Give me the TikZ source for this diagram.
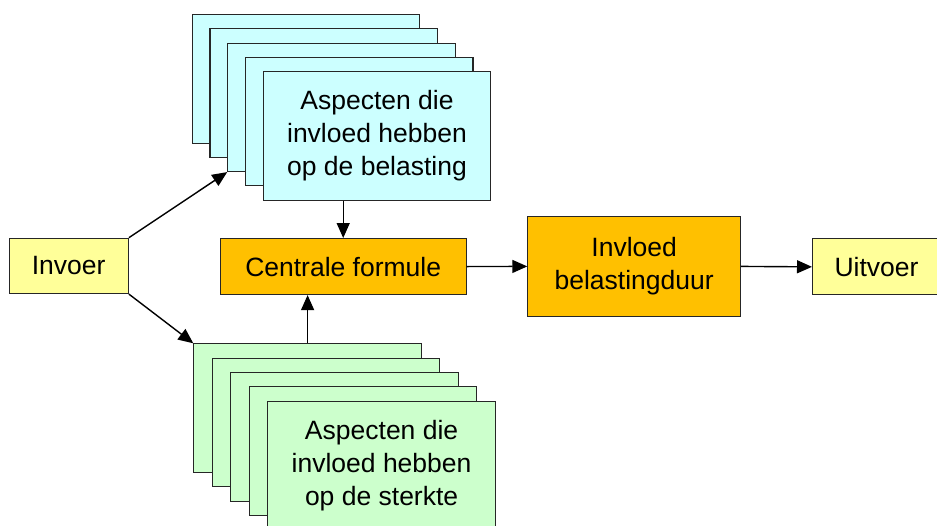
\documentclass[tikz,border=0pt]{standalone}
\usepackage{fontspec}
\setmainfont{Liberation Sans}
\usetikzlibrary{arrows.meta}
\definecolor{lichtblauw}{HTML}{CCFFFF}
\definecolor{lichtgroen}{HTML}{CCFFCC}
\definecolor{geel}{HTML}{FFFF99}
\definecolor{oranje}{HTML}{FFC000}
\tikzset{
    blok/.style={draw=black!85, line width=1.1pt, inner sep=0pt, anchor=north west,
        align=center, font=\fontsize{26.5}{33}\selectfont},
    stapel/.style={blok, minimum width=227.5pt, minimum height=128.5pt},
    pijl/.style={-{Triangle[length=15pt,width=13pt]}, line width=1.4pt}
}
\begin{document}
\begin{tikzpicture}[x=1pt, y=-1pt]
    \useasboundingbox (0,0) rectangle (937,525);
    % stapel belasting
    \foreach \i in {0,...,3}
        \node[stapel, fill=lichtblauw] (bel\i) at (191.7+17.75*\i, 14+14.25*\i) {};
    \node[stapel, fill=lichtblauw] (bel4) at (262.7, 71)
        {Aspecten die\\invloed hebben\\op de belasting};
    % stapel sterkte
    \foreach \i in {0,...,3}
        \node[stapel, fill=lichtgroen] (str\i) at (193.3+18.5*\i, 343.3+14.35*\i) {};
    \node[stapel, fill=lichtgroen] (str4) at (267.3, 400.7)
        {Aspecten die\\invloed hebben\\op de sterkte};
    % overige blokken
    \node[blok, fill=geel, minimum width=119.3pt, minimum height=55.3pt] (in) at (8.5, 237.7) {Invoer};
    \node[blok, fill=oranje, minimum width=245.9pt, minimum height=56pt] (cf) at (219.7, 238) {Centrale formule};
    \node[blok, fill=oranje, minimum width=212.7pt, minimum height=99.7pt] (dur) at (527.3, 216) {Invloed\\belastingduur};
    \node[blok, fill=geel, minimum width=128pt, minimum height=56pt, text width=128pt] (uit) at (812, 238.3) {Uitvoer};
    % pijlen
    \draw[pijl] (in.north east) -- (bel2.south west);
    \draw[pijl] (in.south east) -- (str0.north west);
    \draw[pijl] (cf.north |- bel4.south) -- (cf.north);
    \draw[pijl] (str0.north) -- (str0.north |- cf.south);
    \draw[pijl] (cf.east) -- (dur.west);
    \draw[pijl] (dur.east) -- (uit.west);
\end{tikzpicture}
\end{document}
